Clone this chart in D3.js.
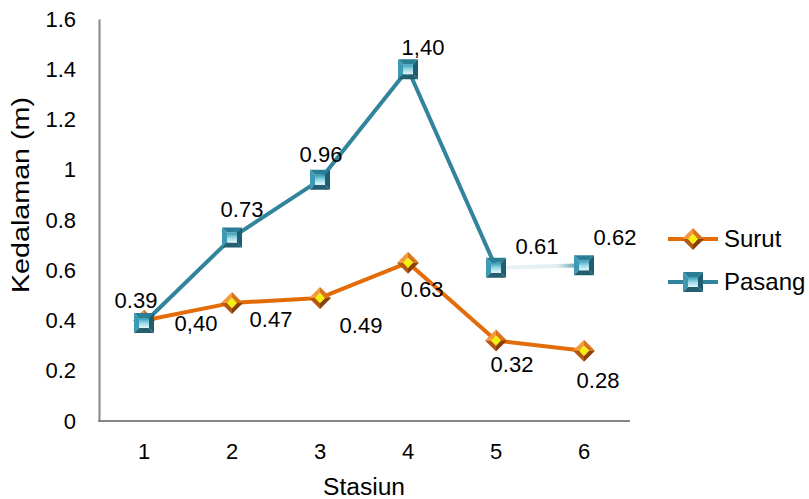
<!DOCTYPE html>
<html><head><meta charset="utf-8">
<script src="https://cdn.jsdelivr.net/npm/d3@7"></script>
<style>
html,body{margin:0;padding:0;background:#fff;}
text{font-family:"Liberation Sans",Arial,sans-serif;fill:#000;}
</style></head>
<body>
<svg id="chart" width="809" height="499"></svg>
<script>
const stations = ["1","2","3","4","5","6"];
const surut = [0.40, 0.47, 0.49, 0.63, 0.32, 0.28];
const pasang = [0.39, 0.73, 0.96, 1.40, 0.61, 0.62];
const surutLabels = ["0,40","0.47","0.49","0.63","0.32","0.28"];
const pasangLabels = ["0.39","0.73","0.96","1,40","0.61","0.62"];
const yTicks = [0,0.2,0.4,0.6,0.8,1,1.2,1.4,1.6];
const seriesNames = ["Surut","Pasang"];

(function(){
const svg = d3.select("#chart");
const mLeft = 99, mRight = 630, mTop = 19, mBottom = 421;
const x = d3.scaleBand().domain(stations).range([mLeft+1, mRight-2]);
const y = d3.scaleLinear().domain([0,1.6]).range([mBottom, mTop]);
const cx = s => x(s) + x.bandwidth()/2;
const FS = "22px";

const defs = svg.append("defs");
const g1 = defs.append("linearGradient").attr("id","sqIn").attr("x1",0).attr("y1",0).attr("x2",0).attr("y2",1);
g1.append("stop").attr("offset","0%").attr("stop-color","#2f9bb6");
g1.append("stop").attr("offset","55%").attr("stop-color","#9fdbe9");
g1.append("stop").attr("offset","100%").attr("stop-color","#e4f5f9");
const g2 = defs.append("linearGradient").attr("id","fade").attr("gradientUnits","userSpaceOnUse")
  .attr("x1",cx(stations[4])).attr("y1",0).attr("x2",cx(stations[5])).attr("y2",0);
g2.append("stop").attr("offset","0%").attr("stop-color","#eaf3f6");
g2.append("stop").attr("offset","70%").attr("stop-color","#e2eef2");
g2.append("stop").attr("offset","100%").attr("stop-color","#31849b");

// axes
const yAxis = d3.axisLeft(y).tickValues(yTicks).tickSize(0).tickPadding(23)
  .tickFormat(d => d3.format("")(d));
const ya = svg.append("g").attr("transform",`translate(${mLeft},0)`).call(yAxis);
ya.select(".domain").attr("stroke","#868686").attr("stroke-width",2);
ya.selectAll("text").attr("font-size",FS).attr("font-family","Liberation Sans, Arial, sans-serif").attr("fill","#000");

const xAxis = d3.axisBottom(x).tickSize(0).tickPadding(22);
const xa = svg.append("g").attr("transform",`translate(0,${mBottom})`).call(xAxis);
xa.select(".domain").attr("d",`M${mLeft-1},0H${mRight}`).attr("stroke","#868686").attr("stroke-width",2);
xa.selectAll("text").attr("font-size",FS).attr("font-family","Liberation Sans, Arial, sans-serif").attr("fill","#000");

svg.append("text").attr("transform",`translate(29,195) rotate(-90)`)
  .attr("text-anchor","middle").attr("font-size","23px")
  .attr("textLength",196).attr("lengthAdjust","spacingAndGlyphs").text("Kedalaman (m)");
svg.append("text").attr("x",364).attr("y",495).attr("text-anchor","middle").attr("font-size","23px")
  .attr("textLength",82).attr("lengthAdjust","spacingAndGlyphs").text("Stasiun");

// lines
const line = d3.line().x((d,i)=>cx(stations[i])).y(d=>y(d));
svg.append("path").datum(surut).attr("d",line).attr("fill","none").attr("stroke","#e36c09").attr("stroke-width",4).attr("stroke-linejoin","round");
svg.append("path").datum(pasang.slice(0,5)).attr("d",line).attr("fill","none").attr("stroke","#31849b").attr("stroke-width",4).attr("stroke-linejoin","round");
svg.append("line").attr("x1",cx(stations[4])).attr("y1",y(pasang[4])).attr("x2",cx(stations[5])).attr("y2",y(pasang[5]))
  .attr("stroke","url(#fade)").attr("stroke-width",4);

function square(g, px, py){
  const h=10, i=5;
  const gg = g.append("g").attr("transform",`translate(${px},${py})`);
  gg.append("path").attr("d",`M${-h},${-h}L${h},${-h}L${i},${-i}L${-i},${-i}Z`).attr("fill","#2a7f96");
  gg.append("path").attr("d",`M${-h},${-h}L${-i},${-i}L${-i},${i}L${-h},${h}Z`).attr("fill","#3d9ab3");
  gg.append("path").attr("d",`M${h},${-h}L${h},${h}L${i},${i}L${i},${-i}Z`).attr("fill","#1f5e70");
  gg.append("path").attr("d",`M${-h},${h}L${h},${h}L${i},${i}L${-i},${i}Z`).attr("fill","#235f71");
  gg.append("rect").attr("x",-i).attr("y",-i).attr("width",2*i).attr("height",2*i).attr("fill","url(#sqIn)");
}
function diamond(g, px, py){
  const h=11, i=5;
  const gg = g.append("g").attr("transform",`translate(${px},${py})`);
  gg.append("path").attr("d",`M0,${-h}L${-h},0L${-i},0L0,${-i}Z`).attr("fill","#f39a3c");
  gg.append("path").attr("d",`M0,${-h}L${h},0L${i},0L0,${-i}Z`).attr("fill","#d9741a");
  gg.append("path").attr("d",`M${-h},0L0,${h}L0,${i}L${-i},0Z`).attr("fill","#b5570c");
  gg.append("path").attr("d",`M${h},0L0,${h}L0,${i}L${i},0Z`).attr("fill","#8a3f06");
  gg.append("path").attr("d",`M0,${-i}L${i},0L0,${i}L${-i},0Z`).attr("fill","#f2f20a");
}

const mk = svg.append("g");
surut.forEach((v,i)=>diamond(mk, cx(stations[i]), y(v)));
pasang.forEach((v,i)=>square(mk, cx(stations[i]), y(v)));

// data labels
const lbl = svg.append("g").attr("font-size",FS);
const sOff = [[52,10],[39,24],[41,35],[14,34],[16,31],[14,37]];
surut.forEach((v,i)=>{
  lbl.append("text").attr("x",cx(stations[i])+sOff[i][0]).attr("y",y(v)+sOff[i][1])
    .attr("text-anchor","middle").text(surutLabels[i]);
});
const pOff = [[-8,-15],[10,-21],[1,-18],[15,-14],[41,-14],[31,-20]];
pasang.forEach((v,i)=>{
  lbl.append("text").attr("x",cx(stations[i])+pOff[i][0]).attr("y",y(v)+pOff[i][1])
    .attr("text-anchor","middle").text(pasangLabels[i]);
});

// legend
const leg = svg.append("g");
const legY = [239, 282];
const legColors = ["#e36c09","#31849b"];
seriesNames.forEach((n,i)=>{
  leg.append("line").attr("x1",668).attr("x2",718).attr("y1",legY[i]).attr("y2",legY[i]).attr("stroke",legColors[i]).attr("stroke-width",4);
  if(i===0) diamond(leg,693,legY[i]); else square(leg,693,legY[i]);
  leg.append("text").attr("x",724).attr("y",legY[i]+8).attr("font-size","24px").text(n);
});
})();
</script>
</body></html>
